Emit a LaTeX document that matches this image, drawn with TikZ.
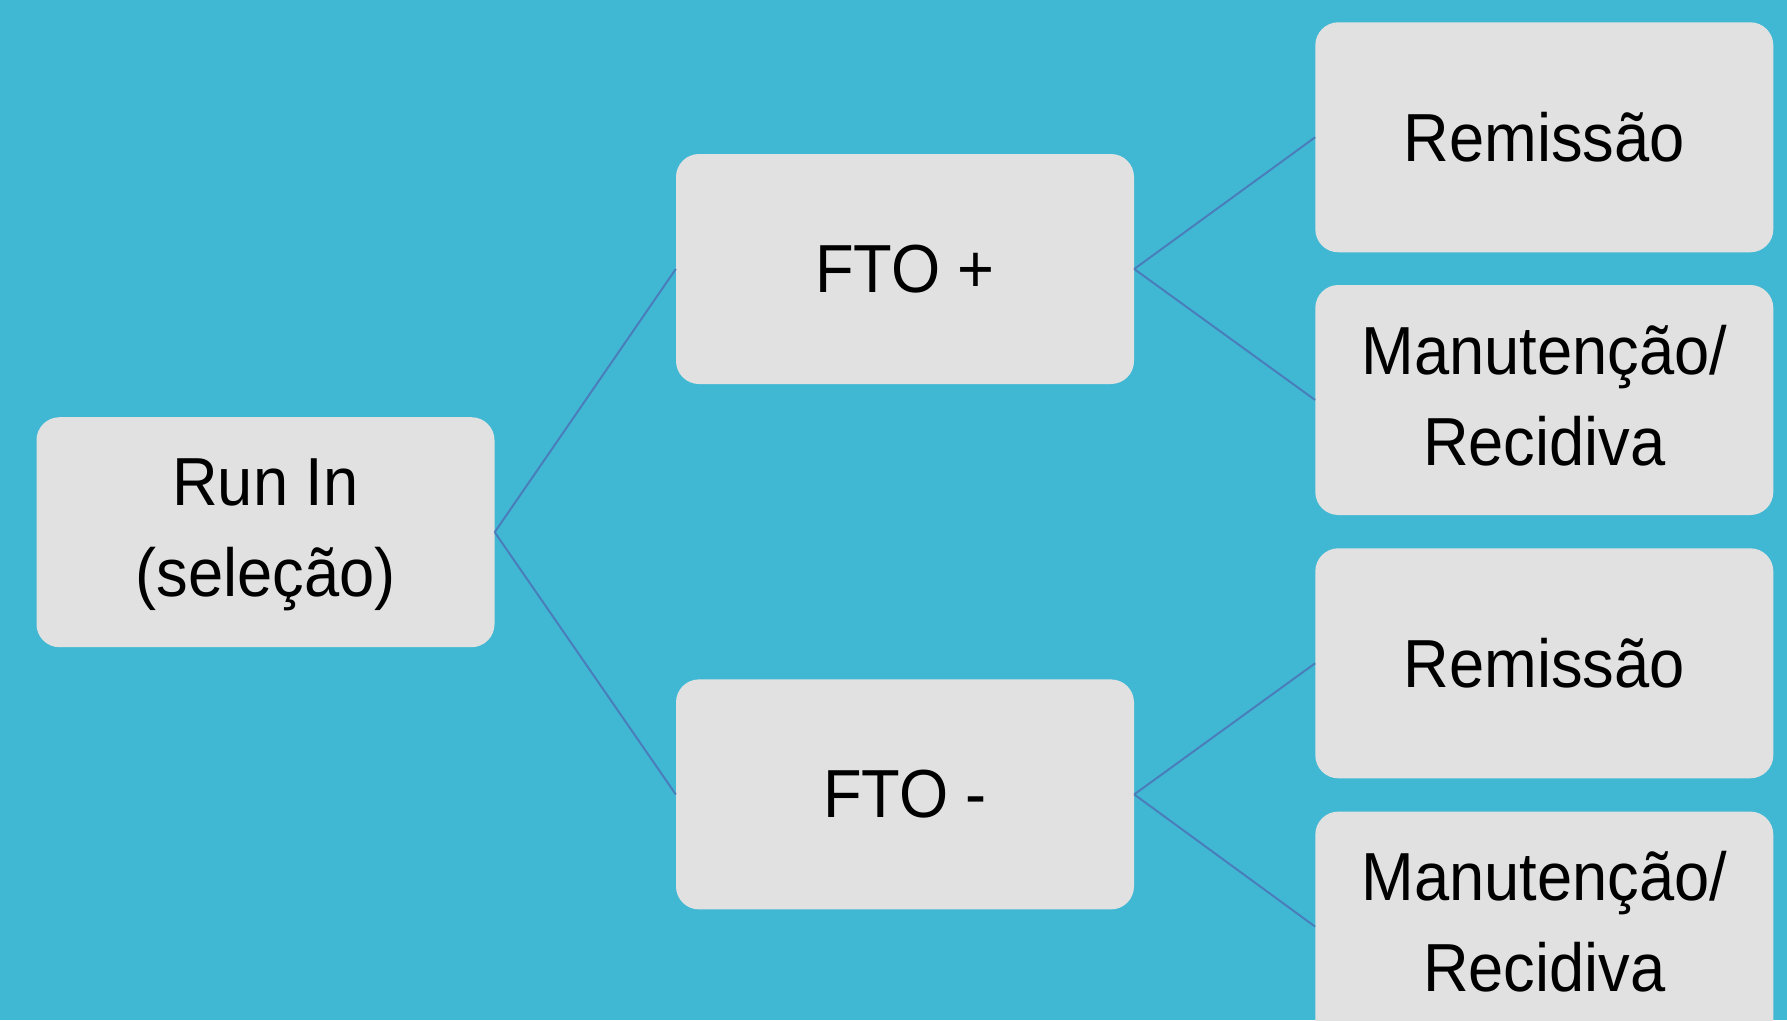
\documentclass[tikz,border=0pt]{standalone}
\usepackage{fontspec}
\setmainfont{Liberation Sans}[FakeStretch=0.93]
\definecolor{bgc}{HTML}{41B8D3}
\definecolor{boxc}{HTML}{E1E1E1}
\definecolor{linec}{HTML}{4A7EBB}
\begin{document}
\begin{tikzpicture}[x=1pt,y=-1pt,
  box/.style={rectangle, rounded corners=23pt, fill=boxc, minimum width=458pt, minimum height=230pt, inner sep=0pt, align=center, font=\fontsize{68}{91}\selectfont, text=black},
  twoline/.style={text depth=10pt},
  conn/.style={draw=linec, line width=2pt}]
\useasboundingbox (0,0) rectangle (1787,1020);
\fill[bgc] (0,0) rectangle (1787,1020);
\node[box,twoline] (run) at (265.5,532.2) {Run In\\(seleção)};
\node[box] (ftop) at (905,269) {FTO +};
\node[box] (ftom) at (905,794.4) {FTO -};
\node[box] (r1) at (1544.3,137.3) {Remissão};
\node[box,twoline] (m1) at (1544.3,400) {Manutenção/\\Recidiva};
\node[box] (r2) at (1544.3,663.3) {Remissão};
\node[box,twoline] (m2) at (1544.3,926.6) {Manutenção/\\Recidiva};
\draw[conn] (run.east) -- (ftop.west);
\draw[conn] (run.east) -- (ftom.west);
\draw[conn] (ftop.east) -- (r1.west);
\draw[conn] (ftop.east) -- (m1.west);
\draw[conn] (ftom.east) -- (r2.west);
\draw[conn] (ftom.east) -- (m2.west);
\end{tikzpicture}
\end{document}
